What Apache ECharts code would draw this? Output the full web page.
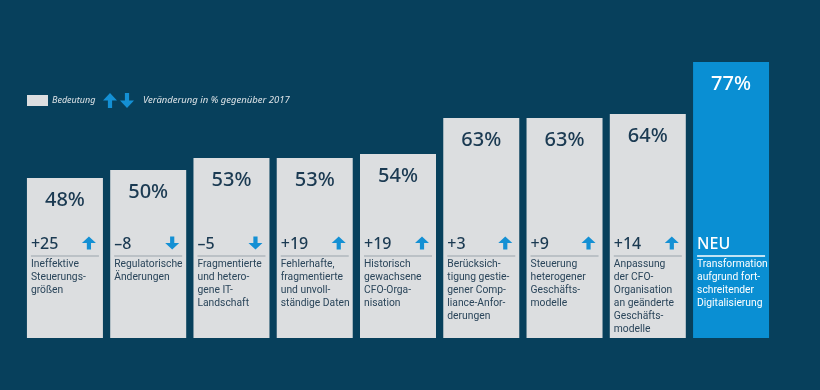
<!DOCTYPE html>
<html><head><meta charset="utf-8">
<script src="https://cdn.jsdelivr.net/npm/echarts@6/dist/echarts.min.js"></script>
<style>html,body{margin:0;padding:0;background:#07405c;}#c{width:820px;height:390px;}</style>
</head><body><div id="c"></div>
<script>
const categories = ['Ineffektive Steuerungsgrößen','Regulatorische Änderungen','Fragmentierte und heterogene IT-Landschaft','Fehlerhafte, fragmentierte und unvollständige Daten','Historisch gewachsene CFO-Organisation','Berücksichtigung gestiegener Compliance-Anforderungen','Steuerung heterogener Geschäftsmodelle','Anpassung der CFO-Organisation an geänderte Geschäftsmodelle','Transformation aufgrund fortschreitender Digitalisierung'];
const importance = [48, 50, 53, 53, 54, 63, 63, 64, 77];
const changes = [25, -8, -5, 19, 19, 3, 9, 14, null];
const descriptions = [
  'Ineffektive\nSteuerungs-\ngrößen',
  'Regulatorische\nÄnderungen',
  'Fragmentierte\nund hetero-\ngene IT-\nLandschaft',
  'Fehlerhafte,\nfragmentierte\nund unvoll-\nständige Daten',
  'Historisch\ngewachsene\nCFO-Orga-\nnisation',
  'Berücksich-\ntigung gestie-\ngener Comp-\nliance-Anfor-\nderungen',
  'Steuerung\nheterogener\nGeschäfts-\nmodelle',
  'Anpassung\nder CFO-\nOrganisation\nan geänderte\nGeschäfts-\nmodelle',
  'Transformation\naufgrund fort-\nschreitender\nDigitalisierung'
];
const newLabel = 'NEU';
const legendImportance = 'Bedeutung';
const legendChange = 'Veränderung in % gegenüber 2017';

const Y_MIN = 8, Y_MAX = 88;
const FONT = '"Noto Sans", "Open Sans", sans-serif';
const DESC_FONT = 'Roboto, "Noto Sans", sans-serif';
const GRAY = '#dcdee0', BLUE = '#0a8fd3', DARK = '#1b3a52', ARROW = '#1490d4';

function fmtChange(v){ return v > 0 ? '+' + v : '\u2013' + Math.abs(v); }
function arrowPts(cx, cy, w, h, up){
  const hh = h * 0.5, sw = w * 0.15, s = up ? 1 : -1;
  const top = cy - s * h / 2, mid = cy - s * (h / 2 - hh), bot = cy + s * h / 2;
  return [[cx, top],[cx + w/2, mid],[cx + sw, mid],[cx + sw, bot],[cx - sw, bot],[cx - sw, mid],[cx - w/2, mid]];
}

const chart = echarts.init(document.getElementById('c'));
chart.setOption({
  backgroundColor: '#07405c',
  animation: false,
  grid: {left: 23.3, right: 47.3, top: 18, bottom: 52},
  xAxis: {type: 'category', data: categories, show: false},
  yAxis: {type: 'value', min: Y_MIN, max: Y_MAX, show: false},
  graphic: [
    {type: 'rect', shape: {x: 27, y: 95, width: 21, height: 11}, style: {fill: GRAY}},
    {type: 'text', x: 52, y: 100.5, style: {text: legendImportance, fill: '#dfe4e8', font: 'italic 9px ' + FONT, verticalAlign: 'middle'}},
    {type: 'polygon', shape: {points: arrowPts(110, 100.5, 14, 15, true)}, style: {fill: ARROW}},
    {type: 'polygon', shape: {points: arrowPts(127, 100.5, 14, 15, false)}, style: {fill: ARROW}},
    {type: 'text', x: 143, y: 100.5, style: {text: legendChange, fill: '#dfe4e8', font: 'italic 9.5px ' + FONT, verticalAlign: 'middle'}}
  ],
  series: [
    {
      type: 'bar',
      barWidth: 76,
      z: 2,
      data: importance.map((v, i) => ({value: v, itemStyle: {color: changes[i] === null ? BLUE : GRAY}, label: {color: changes[i] === null ? '#ffffff' : DARK}})),
      label: {show: true, position: 'insideTop', distance: 12, formatter: '{c}%', fontSize: 20, fontWeight: 500, fontFamily: FONT}
    },
    {
      type: 'custom',
      z: 5,
      data: categories.map((c, i) => [i, Y_MIN]),
      renderItem: function(params, api){
        const i = api.value(0);
        const p = api.coord([i, Y_MIN]);
        const isNew = changes[i] === null;
        const left = p[0] - 38, right = p[0] + 38, b = p[1];
        const children = [
          {type: 'text', style: {x: left + 4, y: b - 94, text: isNew ? newLabel : fmtChange(changes[i]), fill: isNew ? '#ffffff' : DARK, font: '500 16px ' + FONT, verticalAlign: 'middle', align: 'left'}},
          {type: 'line', shape: {x1: left + 4, y1: b - 82, x2: right - 4, y2: b - 82}, style: {stroke: isNew ? '#ffffff' : '#9aa4ac', lineWidth: isNew ? 1.5 : 1}},
          {type: 'text', style: {x: left + 4, y: b - 80, text: descriptions[i], fill: isNew ? '#ffffff' : '#2a455a', font: '10.3px ' + DESC_FONT, lineHeight: 13, verticalAlign: 'top', align: 'left'}}
        ];
        if (!isNew) {
          children.push({type: 'polygon', shape: {points: arrowPts(right - 14, b - 95, 14, 13, changes[i] > 0)}, style: {fill: ARROW}});
        }
        return {type: 'group', children: children};
      }
    }
  ]
});
</script>
</body></html>
